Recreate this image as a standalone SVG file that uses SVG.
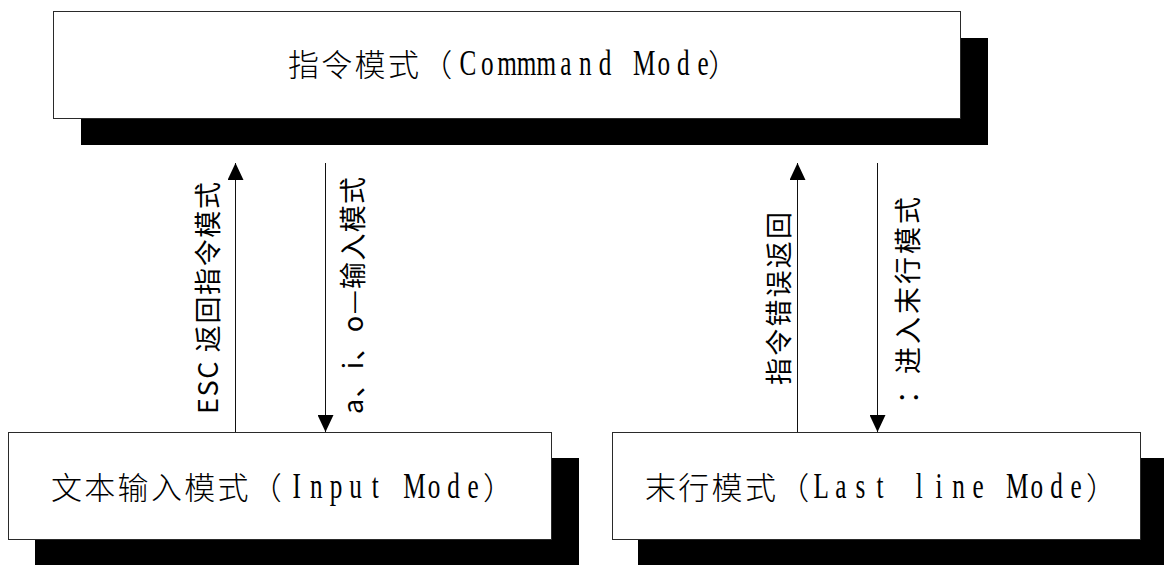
<svg xmlns="http://www.w3.org/2000/svg" width="1164" height="565" viewBox="0 0 1164 565">
<style>
.shadow{fill:#000}
.box{fill:#fff;stroke:#2a2a2a;stroke-width:1}
.cjk{font-family:"Noto Sans CJK SC",sans-serif;font-size:31px;font-weight:300;letter-spacing:2.3px;fill:#000}
.lat{font-family:"Liberation Serif",serif;font-size:36px;fill:#000}
.lbl{font-family:"Noto Sans CJK SC",sans-serif;font-size:27px;fill:#000}
.conn{stroke:#111;stroke-width:1;fill:none}
</style>
<defs>
<marker id="ah" viewBox="0 0 17 16" refX="17" refY="8" markerWidth="17" markerHeight="16" markerUnits="userSpaceOnUse" orient="auto">
<path d="M0,0 L17,8 L0,16 z" fill="#000"/>
</marker>
</defs>

<g id="node-command">
<rect class="shadow" x="81" y="38" width="907" height="107"/>
<rect class="box" x="53.5" y="11.5" width="907" height="107"/>
<text class="cjk" x="288" y="76">指令模式（</text>
<text class="lat" transform="translate(0,75) scale(0.7,1)" text-anchor="middle" x="668.3 696.3 724.3 752.3 780.3 808.3 836.3 864.3 892.3 920.3 948.3 976.3 1004.3" y="0">Commmand Mode</text>
<text class="cjk" x="708" y="76">）</text>
</g>

<g id="node-input">
<rect class="shadow" x="35" y="458" width="544" height="107"/>
<rect class="box" x="8.5" y="432.5" width="543" height="107"/>
<text class="cjk" x="51" y="499">文本输入模式（</text>
<text class="lat" transform="translate(0,498) scale(0.7,1)" text-anchor="middle" x="424 452 480 508 536 564 592 620 648 676" y="0">Input Mode</text>
<text class="cjk" x="483" y="499">）</text>
</g>

<g id="node-lastline">
<rect class="shadow" x="638" y="458" width="530" height="107"/>
<rect class="box" x="612.5" y="432.5" width="528" height="107"/>
<text class="cjk" x="645" y="499">末行模式（</text>
<text class="lat" transform="translate(0,498) scale(0.7,1)" text-anchor="middle" x="1173.3 1201.3 1229.3 1257.3 1285.3 1313.3 1341.3 1369.3 1397.3 1425.3 1453.3 1481.3 1509.3 1537.3" y="0">Last line Mode</text>
<text class="cjk" x="1086" y="499">）</text>
</g>

<g id="connectors">
<line class="conn" x1="235.5" y1="432" x2="235.5" y2="163" marker-end="url(#ah)"/>
<line class="conn" x1="325.5" y1="163" x2="325.5" y2="432" marker-end="url(#ah)"/>
<line class="conn" x1="797.5" y1="432" x2="797.5" y2="163" marker-end="url(#ah)"/>
<line class="conn" x1="877.5" y1="163" x2="877.5" y2="432" marker-end="url(#ah)"/>
<text class="lbl" transform="translate(206,414) rotate(-90)" dominant-baseline="central" textLength="232" lengthAdjust="spacing">ESC 返回指令模式</text>
<text class="lbl" transform="translate(351,414) rotate(-90)" dominant-baseline="central" textLength="237" lengthAdjust="spacing">a、i、o—输入模式</text>
<text class="lbl" transform="translate(777,385) rotate(-90)" dominant-baseline="central" textLength="173" lengthAdjust="spacing">指令错误返回</text>
<text class="lbl" transform="translate(906,404) rotate(-90)" dominant-baseline="central" textLength="207" lengthAdjust="spacing">：进入末行模式</text>
</g>
</svg>
